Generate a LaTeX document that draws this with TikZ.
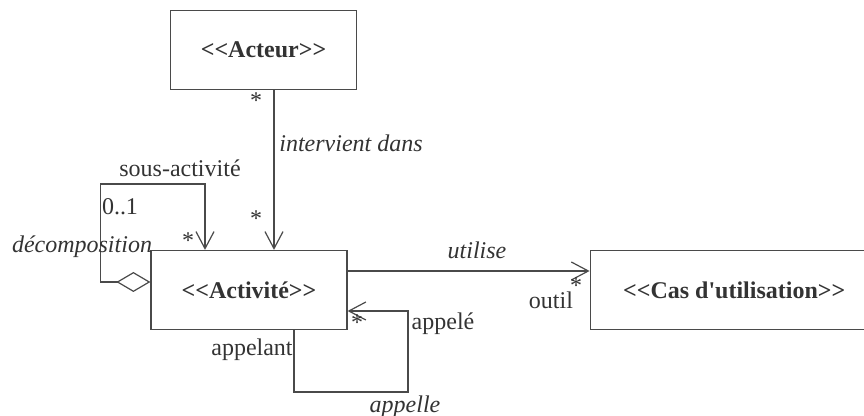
\documentclass[tikz,border=0pt]{standalone}
\usepackage{fontspec}
\newfontfamily\umlfont{Liberation Serif}
\usepackage{tikz}
\usetikzlibrary{arrows.meta,positioning}
\usepackage{xcolor}
\definecolor{uml-line}{HTML}{4a4a4a}
\definecolor{uml-text}{HTML}{333333}
\newcommand\umlsize{\fontsize{12}{14}\selectfont}

\begin{document}
\begin{tikzpicture}[x=0.5pt, y=-0.5pt, >={Straight Barb[length=8.5pt,width=9pt]}, line width=0.6pt, text=uml-text]
  \tikzstyle{class}=[draw=uml-line, rectangle, minimum height=39.5pt, inner sep=0pt, font=\umlfont\umlsize\bfseries]
  \tikzstyle{role}=[inner sep=0pt, font=\umlfont\umlsize]
  \tikzstyle{assoc}=[inner sep=0pt, font=\umlfont\umlsize\itshape]

  \path[use as bounding box, clip] (0,0) rectangle (864,416);

  %% Classes
  \node[class, minimum width=98pt]  (activite) at (249,290)                      {<<Activité>>};
  \node[class, minimum width=93pt]  (acteur)   [above=80pt of activite, xshift=7.25pt] {<<Acteur>>};
  \node[class, minimum width=144pt] (cas)      [right=121pt of activite]          {<<Cas d'utilisation>>};

  %% Acteur -- Activite
  \draw[->, uml-line] ([xshift=5.25pt]acteur.south) -- ([xshift=5.25pt]acteur.south |- activite.north);
  \node[role]  (m-acteur)   at (256,101) {*};
  \node[assoc] (intervient) at (351,143) {intervient dans};
  \node[role]  (m-activite) at (256,219) {*};

  %% Decomposition
  \draw[{Diamond[open,length=17pt,width=10pt]}->, uml-line]
    ([yshift=4pt]activite.west) -| ++(-25pt,49pt) -| ([xshift=-22pt]activite.north);
  \node[role]  (sous)   at (180,168) {sous-activité};
  \node[role]  (m-sous) at (120,207) {0..1};
  \node[assoc] (decomp) at (82,247)  {décomposition};
  \node[role]  (m-fils) at (188,241) {*};

  %% Activite -- Cas
  \draw[->, uml-line] ([yshift=9.5pt]activite.east) -- ([yshift=9.5pt]activite.east -| cas.west);
  \node[assoc] (utilise) at (477,250) {utilise};
  \node[role]  (outil)   at (551,300) {outil};
  \node[role]  (m-outil) at (576,286) {*};

  %% Appels
  \draw[->, uml-line] ([xshift=22.5pt]activite.south) |- ++(57pt,-31pt) |- ([yshift=-10.5pt]activite.east);
  \node[role]  (m-appele) at (357,323) {*};
  \node[role]  (appele)   at (443,324) {appelé};
  \node[role]  (appelant) at (252,350) {appelant};
  \node[assoc] (appelle)  at (405,407) {appelle};
\end{tikzpicture}
\end{document}
